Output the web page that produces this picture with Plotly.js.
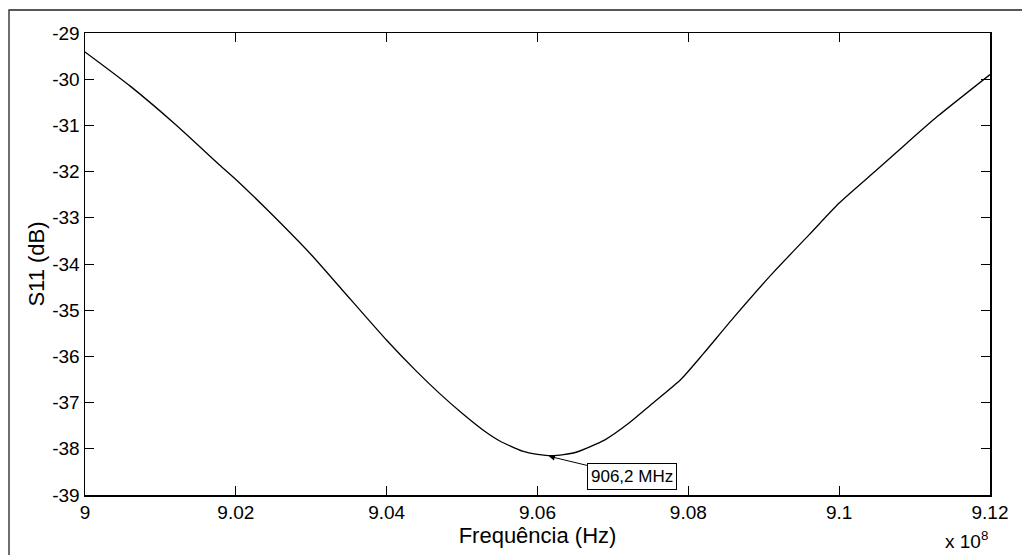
<!DOCTYPE html>
<html>
<head>
<meta charset="utf-8">
<script src="https://cdn.plot.ly/plotly-3.0.1.min.js"></script>
<style>
html,body{margin:0;padding:0;background:#fff;}
#chart{width:1022px;height:555px;}
</style>
</head>
<body>
<div id="chart"></div>
<script>
// Frequency in MHz and S11 in dB
var freqMHz = [900.0, 900.6, 901.2, 901.8, 902.0, 902.4, 903.0, 903.4, 904.0, 904.4, 904.7, 905.0, 905.3, 905.5, 905.8, 906.0, 906.2, 906.5, 906.9, 907.2, 907.5, 907.9, 908.2, 908.6, 909.1, 909.6, 910.0, 910.5, 910.9, 911.3, 912.0];
var s11dB   = [-29.41, -30.15, -30.98, -31.88, -32.17, -32.80, -33.80, -34.54, -35.65, -36.33, -36.80, -37.23, -37.62, -37.83, -38.05, -38.12, -38.15, -38.08, -37.80, -37.46, -37.05, -36.50, -35.94, -35.16, -34.23, -33.37, -32.68, -31.96, -31.38, -30.81, -29.90];

var xTickValsHz = [9.00e8, 9.02e8, 9.04e8, 9.06e8, 9.08e8, 9.10e8, 9.12e8];
var xTickText = ['9', '9.02', '9.04', '9.06', '9.08', '9.1', '9.12'];
var yTickVals = [-39, -38, -37, -36, -35, -34, -33, -32, -31, -30, -29];

var markerFreqMHz = 906.15;
var markerS11 = -38.16;
var markerLabel = '906,2 MHz';

var freqHz = freqMHz.map(function(f){ return f * 1e6; });

var FONT = '"Liberation Sans", Arial, Helvetica, sans-serif';

var trace = {
  x: freqHz,
  y: s11dB,
  type: 'scatter',
  mode: 'lines',
  line: {color: '#000', width: 1.3, shape: 'spline', smoothing: 0.6},
  hoverinfo: 'skip'
};

var axisCommon = {
  showgrid: false,
  zeroline: false,
  showline: true,
  linecolor: '#000',
  linewidth: 1.5,
  mirror: 'ticks',
  ticks: 'inside',
  ticklen: 9,
  tickwidth: 1,
  tickcolor: '#000',
  tickfont: {family: FONT, size: 19, color: '#000'}
};

var layout = {
  width: 1022,
  height: 555,
  margin: {l: 85, r: 32, t: 33, b: 60, pad: 0},
  paper_bgcolor: '#fff',
  plot_bgcolor: '#fff',
  showlegend: false,
  font: {family: FONT, color: '#000'},
  xaxis: Object.assign({}, axisCommon, {
    range: [9.00e8, 9.12e8],
    tickmode: 'array',
    tickvals: xTickValsHz,
    ticktext: xTickText,
    title: {text: 'Frequência (Hz)', font: {family: FONT, size: 22, color: '#000'}, standoff: 0}
  }),
  yaxis: Object.assign({}, axisCommon, {
    range: [-39, -29],
    tickmode: 'array',
    tickvals: yTickVals,
    ticktext: yTickVals.map(String),
    title: {text: 'S11 (dB)', font: {family: FONT, size: 22, color: '#000'}, standoff: 1}
  }),
  shapes: [{
    type: 'rect', xref: 'paper', yref: 'paper',
    x0: (9 - 85) / 905, x1: 1.3,
    y0: -0.4, y1: (495 - 10) / 462,
    line: {color: '#222', width: 1.3},
    fillcolor: 'rgba(0,0,0,0)',
    layer: 'below'
  }],
  annotations: [{
    x: markerFreqMHz * 1e6, y: markerS11, xref: 'x', yref: 'y',
    text: markerLabel,
    showarrow: true, arrowhead: 2, arrowsize: 1.2, arrowwidth: 1, arrowcolor: '#000',
    ax: 83, ay: 20, standoff: 0,
    bgcolor: '#fff', bordercolor: '#000', borderwidth: 1, borderpad: 3,
    font: {family: FONT, size: 17, color: '#000'}
  }, {
    xref: 'paper', yref: 'paper',
    x: 1, xanchor: 'right', y: -(540 - 495) / 462, yanchor: 'middle',
    text: 'x 10<sup>8</sup>', showarrow: false,
    font: {family: FONT, size: 19, color: '#000'}
  }]
};

Plotly.newPlot('chart', [trace], layout, {staticPlot: true, displayModeBar: false});
</script>
</body>
</html>
